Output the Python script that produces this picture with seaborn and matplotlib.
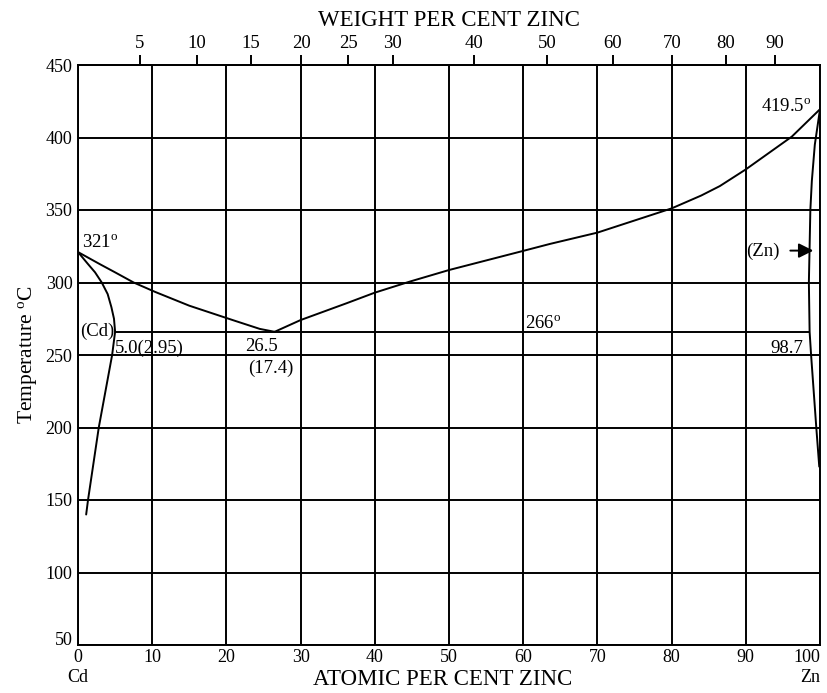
import numpy as np
import matplotlib
matplotlib.use("Agg")
import matplotlib.pyplot as plt
import seaborn as sns

# Cd-Zn equilibrium diagram: atomic % Zn against temperature (deg C)
liq_cd_x = [0.0, 3.0, 5.0, 7.5, 10.4, 15.0, 20.9, 24.5, 26.5]
liq_cd_t = [321.0, 312.5, 307.0, 300.0, 293.5, 284.0, 274.0, 268.0, 266.0]

liq_zn_x = [26.5, 30.0, 36.2, 40.0, 44.7, 50.0, 60.0, 63.6, 70.0, 80.0, 84.0,
            86.5, 90.0, 96.2, 100.0]
liq_zn_t = [266.0, 274.1, 285.7, 293.0, 300.6, 308.6, 321.8, 326.6, 334.4,
            351.1, 360.0, 366.5, 378.0, 400.6, 419.5]

sol_cd_x = [0.0, 1.3, 2.3, 3.2, 4.0, 4.5, 4.85, 5.0]
sol_cd_t = [321.0, 313.0, 307.0, 300.0, 292.0, 283.0, 275.0, 266.0]

solvus_cd_x = [5.0, 4.6, 2.8, 1.35, 1.1]
solvus_cd_t = [266.0, 250.0, 200.0, 150.0, 140.0]

zn_side_x = [100.0, 99.3, 98.9, 98.7, 98.5, 98.6, 98.8, 99.5, 99.9]
zn_side_t = [419.5, 395.0, 370.0, 350.0, 300.0, 266.0, 250.0, 200.0, 173.0]

eutectic_t = 266.0
eutectic_x = [5.0, 98.7]

at_ticks = list(range(0, 101, 10))
at_labels = ["0\nCd", "10", "20", "30", "40", "50", "60", "70", "80", "90", "100\nZn"]
t_ticks = list(range(50, 451, 50))
wt_ticks = [5, 10, 15, 20, 25, 30, 40, 50, 60, 70, 80, 90]

M_CD = 112.41
M_ZN = 65.38


def at_to_wt(a):
    a = np.clip(np.asarray(a, dtype=float), 0.0, 100.0)
    num = a * M_ZN
    den = a * M_ZN + (100.0 - a) * M_CD
    return 100.0 * num / den


def wt_to_at(w):
    w = np.clip(np.asarray(w, dtype=float), 0.0, 100.0)
    num = w / M_ZN
    den = w / M_ZN + (100.0 - w) / M_CD
    return 100.0 * num / den


sns.set_theme(style="white")
plt.rcParams["font.family"] = ["Liberation Serif", "DejaVu Serif"]
plt.rcParams["mathtext.fontset"] = "custom"
plt.rcParams["mathtext.rm"] = "Liberation Serif"
plt.rcParams["mathtext.it"] = "Liberation Serif:italic"
plt.rcParams["text.color"] = "black"
plt.rcParams["axes.labelcolor"] = "black"
plt.rcParams["xtick.color"] = "black"
plt.rcParams["ytick.color"] = "black"

W, H = 828, 693
fig = plt.figure(figsize=(W / 100, H / 100), dpi=100)
ax = fig.add_axes([78 / W, 1 - 645 / H, 742 / W, 580 / H])

LW = 1.4
curves = [
    (liq_cd_x, liq_cd_t),
    (liq_zn_x, liq_zn_t),
    (sol_cd_x, sol_cd_t),
    (solvus_cd_x, solvus_cd_t),
    (zn_side_x, zn_side_t),
]
for xs, ts in curves:
    sns.lineplot(x=xs, y=ts, sort=False, estimator=None, color="black",
                 lw=LW, ax=ax)

ax.hlines(eutectic_t, eutectic_x[0], eutectic_x[1], color="black", lw=LW)

ax.set_xlim(0, 100)
ax.set_ylim(50, 450)
ax.set_xticks(at_ticks)
ax.set_xticklabels(at_labels)
ax.set_yticks(t_ticks)
ax.grid(True, color="black", lw=LW)
ax.set_axisbelow(True)
ax.tick_params(axis="both", length=0, labelsize=13)
ax.tick_params(axis="x", pad=3)
ax.tick_params(axis="y", pad=4)
for s in ax.spines.values():
    s.set_color("black")
    s.set_linewidth(LW)

# end labels: keep "100 / Zn" inside the figure, lift "50" off the corner
last = ax.get_xticklabels()[-1]
last.set_horizontalalignment("right")
last.set_multialignment("right")
ax.get_yticklabels()[0].set_verticalalignment("baseline")

ax.set_ylabel("Temperature $^{\\rm o}$C", fontsize=15.5)
ax.yaxis.set_label_coords(-0.052, 0.5)
ax.set_xlabel("ATOMIC PER CENT ZINC", fontsize=16.5)
ax.xaxis.set_label_coords(0.491, -0.042)

secax = ax.secondary_xaxis("top", functions=(at_to_wt, wt_to_at))
secax.set_xticks(wt_ticks)
secax.tick_params(direction="out", length=7, width=LW, labelsize=13.5, pad=2)
secax.spines["top"].set_linewidth(LW)
secax.set_xlabel("WEIGHT PER CENT ZINC", fontsize=16.5, labelpad=7)

fs = 13.5
ax.text(0.6, 324.5, "321$^{\\rm o}$", fontsize=fs, ha="left", va="baseline")
ax.text(98.9, 418.0, "419.5$^{\\rm o}$", fontsize=fs, ha="right", va="baseline")
ax.text(62.7, 268.5, "266$^{\\rm o}$", fontsize=fs, ha="center", va="baseline")
ax.text(0.3, 266.0, "(Cd)", fontsize=fs, ha="left", va="center")
ax.text(5.0, 251.6, "5.0(2.95)", fontsize=fs, ha="left", va="baseline")
ax.text(24.7, 253.0, "26.5", fontsize=fs, ha="center", va="baseline")
ax.text(26.0, 237.4, "(17.4)", fontsize=fs, ha="center", va="baseline")
ax.text(97.7, 251.6, "98.7", fontsize=fs, ha="right", va="baseline")
ax.text(92.3, 321.7, "(Zn)", fontsize=fs, ha="center", va="center")
ax.annotate("", xy=(99.1, 322.0), xytext=(96.0, 322.0),
            arrowprops=dict(arrowstyle="-|>", mutation_scale=22, lw=LW,
                            color="black", shrinkA=0, shrinkB=0))

fig.savefig("out.png", dpi=100)
